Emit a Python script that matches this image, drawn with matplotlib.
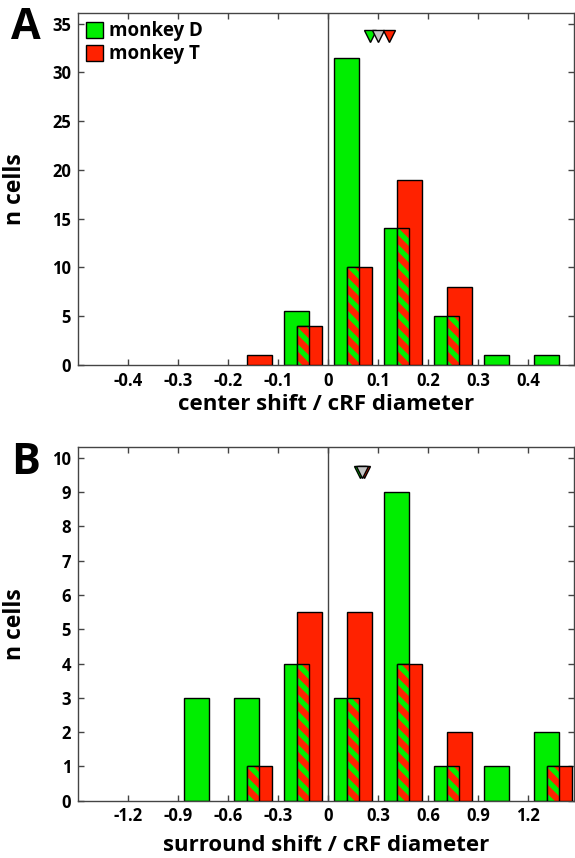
import matplotlib
matplotlib.use("Agg")
import matplotlib.pyplot as plt

# panel A: center shift histogram
center_bins = [-0.15, -0.05, 0.05, 0.15, 0.25, 0.35, 0.45]
center_D = [0, 5.5, 31.5, 14, 5, 1, 1]
center_T = [1, 4, 10, 19, 8, 0, 0]
center_means = [0.084, 0.10, 0.122]          # monkey D, pooled, monkey T
center_ticks = [-0.4, -0.3, -0.2, -0.1, 0, 0.1, 0.2, 0.3, 0.4]
center_ticklabels = ["-0.4", "-0.3", "-0.2", "-0.1", "0", "0.1", "0.2", "0.3", "0.4"]

# panel B: surround shift histogram
surround_bins = [-0.75, -0.45, -0.15, 0.15, 0.45, 0.75, 1.05, 1.35]
surround_D = [3, 3, 4, 3, 9, 1, 1, 2]
surround_T = [0, 1, 5.5, 5.5, 4, 2, 0, 1]
surround_means = [0.192, 0.204, 0.216]
surround_ticks = [-1.2, -0.9, -0.6, -0.3, 0, 0.3, 0.6, 0.9, 1.2]
surround_ticklabels = ["-1.2", "-0.9", "-0.6", "-0.3", "0", "0.3", "0.6", "0.9", "1.2"]

GREEN = "#00ee00"
RED = "#ff2200"
GRAY = "#c4c4c4"

plt.rcParams["font.family"] = ["Open Sans", "DejaVu Sans"]
plt.rcParams["font.weight"] = "bold"
plt.rcParams["hatch.linewidth"] = 3.8


def draw_panel(ax, bins, d, t, binw, means, marker_y, gray_last, xlim, ylim, yticks,
               ticks, ticklabels, xlabel, xlabelpad):
    w = binw / 2
    off = binw / 8
    ax.axvline(0, color="#444444", lw=1.0, zorder=1)
    for c, hd, ht in zip(bins, d, t):
        if hd > 0:
            ax.bar(c - off, hd, width=w, color=GREEN, edgecolor="black", lw=1.0, zorder=2)
        if ht > 0:
            ax.bar(c + off, ht, width=w, color=RED, edgecolor="black", lw=1.0, zorder=3)
        if hd > 0 and ht > 0:
            # overlapping part of the two bars gets striped
            left = c + off - w / 2
            right = c - off + w / 2
            h = min(hd, ht)
            ax.bar(left, h, width=right - left, align="edge", color=RED, edgecolor=GREEN,
                   hatch="\\\\", lw=0, zorder=4)
            ax.bar(left, h, width=right - left, align="edge", fill=False,
                   edgecolor="black", lw=1.0, zorder=5)
    # mean markers: D, pooled, T
    z_gray = 8 if gray_last else 7
    z_red = 7 if gray_last else 8
    ax.plot(means[0], marker_y, "v", ms=9, mfc=GREEN, mec="black", mew=1.0, zorder=6, clip_on=False)
    ax.plot(means[1], marker_y, "v", ms=9, mfc=GRAY, mec="black", mew=1.0, zorder=z_gray, clip_on=False)
    ax.plot(means[2], marker_y, "v", ms=9, mfc=RED, mec="black", mew=1.0, zorder=z_red, clip_on=False)

    ax.set_xlim(*xlim)
    ax.set_ylim(*ylim)
    ax.set_xticks(ticks)
    ax.set_xticklabels(ticklabels, fontweight="bold")
    ax.set_yticks(yticks)
    ax.set_yticklabels([str(v) for v in yticks], fontweight="bold")
    ax.tick_params(direction="in", top=True, right=True, length=4, width=1,
                   color="#444444", labelsize=12, pad=5)
    for s in ax.spines.values():
        s.set_color("#444444")
        s.set_linewidth(1.0)
    ax.set_xlabel(xlabel, fontsize=16, fontweight="bold", labelpad=xlabelpad)
    ax.set_ylabel("n cells", fontsize=16.5, fontweight="bold")
    ax.yaxis.set_label_coords(-0.103, 0.5)


fig = plt.figure(figsize=(5.75, 8.58), dpi=100)
axA = fig.add_axes([0.1357, 0.5746, 0.8626, 0.4103])
axB = fig.add_axes([0.1357, 0.0670, 0.8626, 0.4120])

draw_panel(axA, center_bins, center_D, center_T, 0.1, center_means, 33.7, False,
           (-0.5, 0.492), (0, 36.1), list(range(0, 36, 5)), center_ticks, center_ticklabels,
           "center shift / cRF diameter", 3)
draw_panel(axB, surround_bins, surround_D, surround_T, 0.3, surround_means, 9.6, True,
           (-1.5, 1.476), (0, 10.32), list(range(0, 11)), surround_ticks, surround_ticklabels,
           "surround shift / cRF diameter", 7)

hD = plt.Rectangle((0, 0), 1, 1, facecolor=GREEN, edgecolor="black", lw=1)
hT = plt.Rectangle((0, 0), 1, 1, facecolor=RED, edgecolor="black", lw=1)
axA.legend([hD, hT], ["monkey D", "monkey T"], loc="upper left", frameon=False,
           prop={"size": 13.5, "weight": "bold"}, handlelength=0.9, handleheight=0.9,
           handletextpad=0.3, labelspacing=0.15, borderaxespad=0.3, borderpad=0.15)

fig.text(0.045, 0.968, "A", fontsize=31, fontweight="bold", ha="center", va="center")
fig.text(0.045, 0.461, "B", fontsize=31, fontweight="bold", ha="center", va="center")

fig.savefig("out.png", dpi=100)
